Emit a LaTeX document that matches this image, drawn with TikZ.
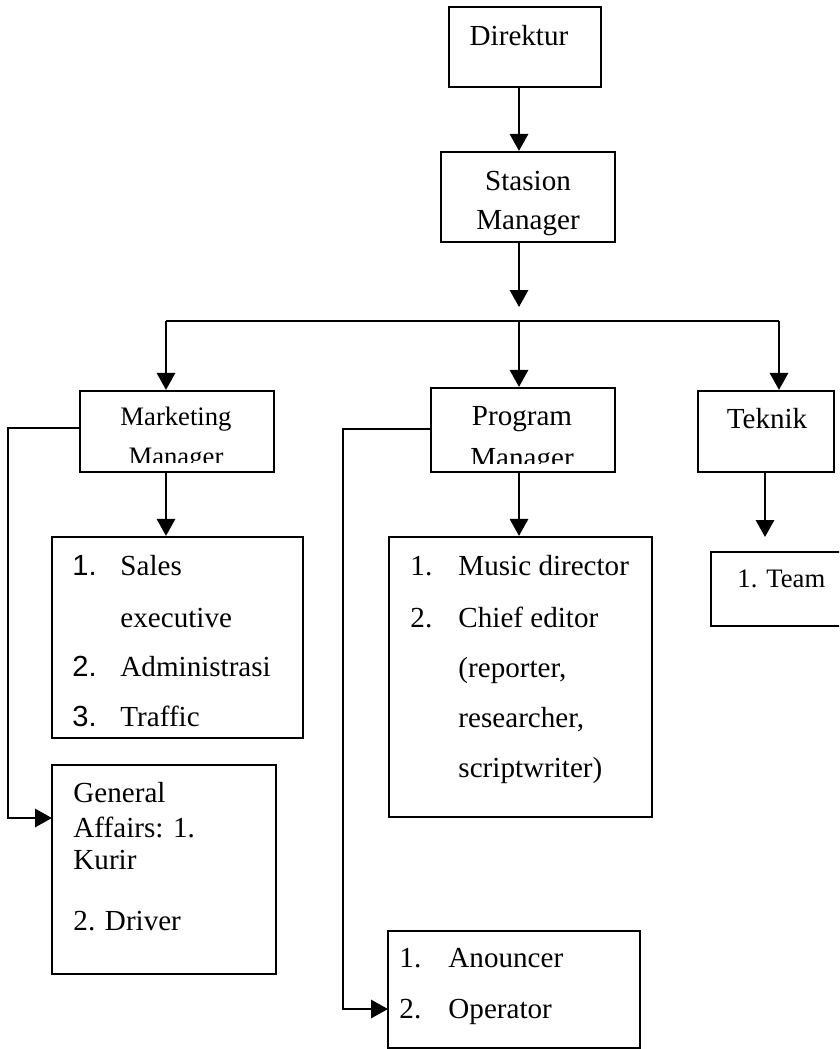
\documentclass[tikz,border=0pt]{standalone}
\usepackage{fontspec}
\setmainfont{Liberation Serif}
\newfontfamily\arialnum{Liberation Sans}
\usetikzlibrary{arrows.meta, positioning, calc, fit}

\begin{document}
\begin{tikzpicture}[x=0.0145cm, y=-0.0145cm,
    box/.style={draw, line width=0.9pt, inner sep=0pt},
    arr/.style={line width=1pt, -{Triangle[width=7.5pt,length=7pt]}},
    txt/.style={inner sep=0pt, font=\fontsize{12}{14}\selectfont},
    stxt/.style={inner sep=0pt, font=\fontsize{11}{13}\selectfont}]
\path[use as bounding box] (0,0) rectangle (839,1049);
\clip (0,0) rectangle (839,1049);

% boxes
\node[box, fit={(449,7) (601,87)}] (direktur) {};
\node[box, fit={(441,152) (615,242)}] (stasion) {};
\node[box, fit={(80,391) (274,472)}] (marketing) {};
\node[box, fit={(431,388) (615,472)}] (program) {};
\node[box, fit={(698,391) (834,472)}] (teknik) {};
\node[box, fit={(52,537) (303,738)}] (sales) {};
\node[box, fit={(389,537) (652,817)}] (music) {};
\node[box, fit={(711,552) (850,626)}] (team) {};
\node[box, fit={(52,765) (276,974)}] (general) {};
\node[box, fit={(388,931) (640,1048)}] (anouncer) {};

% titles
\node[txt, anchor=base] (direktur-t) at (519,45) {Direktur};
\node[txt, anchor=base] (stasion-t1) at (528,190) {Stasion};
\node[txt, anchor=base] (stasion-t2) at (528,229) {Manager};
\node[stxt, anchor=base] (marketing-t1) at (176,425) {Marketing};
\node[txt, anchor=base] (program-t1) at (522,425) {Program};
\node[txt, anchor=base] (teknik-t) at (767,428) {Teknik};
\begin{scope}
\clip (80,391) rectangle (274,462);
\node[stxt, anchor=base] (marketing-t2) at (176,465) {Manager};
\end{scope}
\begin{scope}
\clip (431,388) rectangle (615,463);
\node[txt, anchor=base] (program-t2) at (522,467) {Manager};
\end{scope}

% lists
\foreach \num/\line/\y in {1./Sales/575, /executive/627, 2./Administrasi/676, 3./Traffic/726} {
    \node[txt, anchor=base west] (sales-n\y) at (72,\y) {\arialnum\num};
    \node[txt, anchor=base west] (sales-t\y) at (120,\y) {\line};
}
\foreach \num/\line/\y in {1./Music director/575, 2./Chief editor/627, /{(reporter,}/677,
    /{researcher,}/727, /{scriptwriter)}/777} {
    \node[txt, anchor=base west] (music-n\y) at (410,\y) {\num};
    \node[txt, anchor=base west] (music-t\y) at (458,\y) {\line};
}
\foreach \line/\y in {General/802, Affairs: 1./837, Kurir/869, 2. Driver/930} {
    \node[txt, anchor=base west] (general-t\y) at (73,\y) {\line};
}
\foreach \num/\line/\y in {1./Anouncer/967, 2./Operator/1018} {
    \node[txt, anchor=base west] (anouncer-n\y) at (399,\y) {\num};
    \node[txt, anchor=base west] (anouncer-t\y) at (448,\y) {\line};
}
\node[stxt, anchor=base west] (team-t) at (737,587) {1. Team};

% connectors
\coordinate (split) at (519,307);
\coordinate (bus-l) at (166,321);
\coordinate (bus-m) at (519,321);
\coordinate (bus-r) at (779,321);
\coordinate (team-in) at (765,537);
\coordinate (ga-in) at (52,818);
\coordinate (an-in) at (388,1009);

\draw[arr] (direktur-t |- direktur.south) -- (direktur-t |- stasion.north);
\draw[arr] (stasion.south -| split) -- (split);
\draw[line width=1pt] (bus-l) -- (bus-r);
\draw[arr] (bus-l) -- (bus-l |- marketing.north);
\draw[arr] (bus-m) -- (bus-m |- program.north);
\draw[arr] (bus-r) -- (bus-r |- teknik.north);
\draw[arr] (bus-l |- marketing.south) -- (bus-l |- sales.north);
\draw[arr] (bus-m |- program.south) -- (bus-m |- music.north);
\draw[arr] (teknik.south -| team-in) -- (team-in);
\draw[arr] (marketing.west |- 0,428) -| ($(ga-in)+(-44,0)$) -- (ga-in);
\draw[arr] (program.west |- 0,429) -| ($(an-in)+(-45,0)$) -- (an-in);
\end{tikzpicture}
\end{document}
